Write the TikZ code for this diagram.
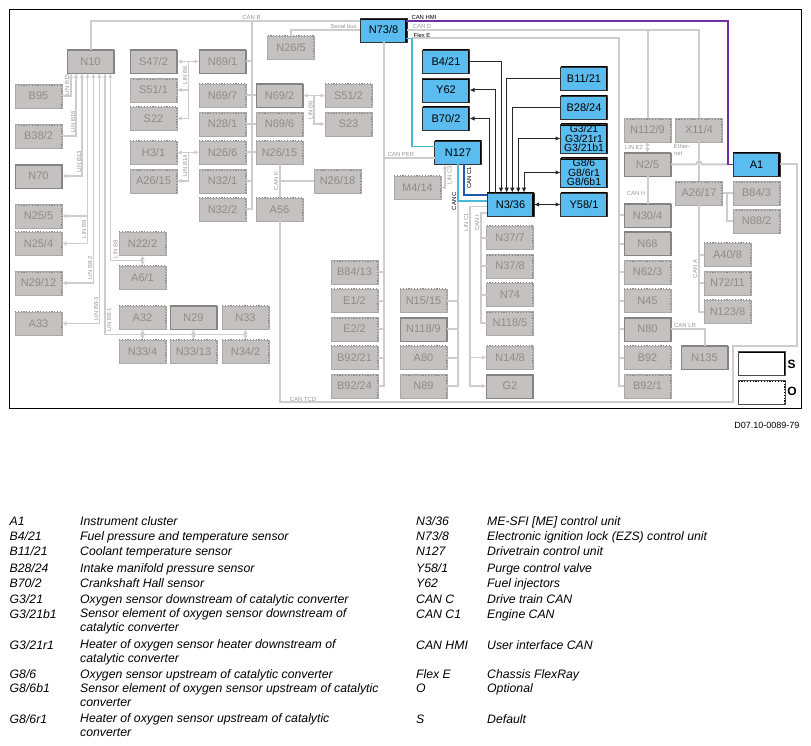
\documentclass[tikz,border=0pt]{standalone}
\usepackage{fontspec}
\setmainfont{Liberation Sans}
\usepackage{xcolor}
\usepackage{tikz}
\usetikzlibrary{positioning,arrows.meta}

\definecolor{boxfill}{RGB}{197,193,193}
\definecolor{boxedge}{RGB}{132,132,132}
\definecolor{boxtext}{RGB}{140,140,140}
\definecolor{busgray}{RGB}{205,205,205}
\definecolor{lblgray}{RGB}{150,150,150}
\definecolor{ecublue}{RGB}{91,188,240}
\definecolor{canclight}{RGB}{75,185,220}
\definecolor{candark}{RGB}{30,90,165}
\definecolor{hmipurple}{RGB}{112,48,160}

\begin{document}
\begin{tikzpicture}[
  x=1pt, y=-1pt,
  box/.style={
    rectangle, draw, outer sep=0pt, inner sep=0pt, align=center,
    minimum width=47pt, minimum height=23.5pt, font=\fontsize{11}{11}\selectfont
  },
  std/.style={box, fill=boxfill, draw=boxedge, text=boxtext,
    path picture={\draw[boxedge, line width=3pt]
      (path picture bounding box.north west) -- (path picture bounding box.north east)
      -- (path picture bounding box.south east);}},
  opt/.style={box, fill=boxfill, draw=boxedge!70, text=boxtext,
    path picture={\draw[boxedge, line width=3pt, dash pattern=on 1.2pt off 1.6pt]
      (path picture bounding box.north west) -- (path picture bounding box.north east)
      -- (path picture bounding box.south east);}},
  ecu/.style={box, fill=ecublue, draw=black!80,
    path picture={\draw[black, line width=3.4pt]
      (path picture bounding box.north west) -- (path picture bounding box.north east)
      -- (path picture bounding box.south east);}},
  multi/.style={minimum height=29pt, font=\fontsize{10.4}{9.7}\selectfont},
  bus/.style={draw=busgray, line width=2pt},
  lin/.style={draw=busgray, line width=1.5pt, >={Latex[length=4.5pt,width=4.5pt]}},
  wire/.style={draw=black!85, line width=1pt, >={Latex[length=5pt,width=4.5pt]}},
  lbl/.style={inner sep=0pt, text=lblgray, font=\fontsize{5.9}{6.5}\selectfont},
  lblk/.style={inner sep=0pt, text=black, font=\fontsize{5.9}{6.5}\selectfont},
  legkey/.style={anchor=west, inner sep=0pt, yshift=-1.8pt,
    execute at begin node=\strut, font=\fontsize{12.25}{14}\selectfont\itshape},
  legtxt/.style={legkey, align=left}
]
\useasboundingbox (0,0) rectangle (811,746);
\draw[black, line width=1pt] (9.5,9.5) rectangle (801,408);

% left column
\node[std] (n10) at (90.5,61.5) {N10};
\node[opt] (b95) at (38.5,96) {B95};
\node[opt] (b38-2) at (38.5,136) {B38/2};
\node[std] (n70) at (38.5,176) {N70};
\node[opt] (n25-5) at (38.5,216) {N25/5};
\node[opt] (n25-4) at (38.5,243.5) {N25/4};
\node[opt] (n29-12) at (38.5,283) {N29/12};
\node[opt] (a33) at (38.5,323.5) {A33};
\node[opt] (n22-2) at (142.5,243.5) {N22/2};
\node[opt, below=10.5pt of n22-2] (a6-1) {A6/1};
\node[opt] (a32) at (142.5,317.5) {A32};
\node[opt, below=10.5pt of a32] (n33-4) {N33/4};
\node[std, right=4pt of a32] (n29) {N29};
\node[opt, right=5pt of n29] (n33) {N33};
\node[opt, right=4pt of n33-4] (n33-13) {N33/13};
\node[opt, right=5pt of n33-13] (n34-2) {N34/2};

% LIN switches and CAN B units
\node[std] (s47-2) at (153.5,61.5) {S47/2};
\node[opt, below=5pt of s47-2] (s51-1) {S51/1};
\node[opt, below=5pt of s51-1] (s22) {S22};
\node[opt, below=10.5pt of s22] (h3-1) {H3/1};
\node[opt, below=5pt of h3-1] (a26-15) {A26/15};
\node[std, right=22pt of s47-2] (n69-1) {N69/1};
\node[opt] (n69-7) at (222.5,95.5) {N69/7};
\node[opt, below=5pt of n69-7] (n28-1) {N28/1};
\node[opt, below=5pt of n28-1] (n26-6) {N26/6};
\node[opt, below=5pt of n26-6] (n32-1) {N32/1};
\node[opt, below=5pt of n32-1] (n32-2) {N32/2};
\node[std, right=10pt of n69-7] (n69-2) {N69/2};
\node[opt, right=10pt of n28-1] (n69-6) {N69/6};
\node[opt, right=10pt of n26-6] (n26-15) {N26/15};
\node[opt, right=10pt of n32-2] (a56) {A56};
\node[opt, right=22pt of n69-2] (s51-2) {S51/2};
\node[opt, right=22pt of n69-6] (s23) {S23};
\node[opt] (n26-18) at (337.5,181) {N26/18};
\node[opt] (n26-5) at (291,47.5) {N26/5};

% middle, CAN PER and CAN C
\node[opt] (m4-14) at (417.5,187.5) {M4/14};
\node[opt] (b84-13) at (354.5,272) {B84/13};
\node[opt, below=5pt of b84-13] (e1-2) {E1/2};
\node[opt, below=5pt of e1-2] (e2-2) {E2/2};
\node[opt, below=5pt of e2-2] (b92-21) {B92/21};
\node[opt, below=5pt of b92-21] (b92-24) {B92/24};
\node[opt, right=22pt of e1-2] (n15-15) {N15/15};
\node[std, below=5pt of n15-15] (n118-9) {N118/9};
\node[opt, below=5pt of n118-9] (a80) {A80};
\node[opt, below=5pt of a80] (n89) {N89};
\node[opt] (n37-7) at (510,237.5) {N37/7};
\node[opt, below=5pt of n37-7] (n37-8) {N37/8};
\node[opt, below=5pt of n37-8] (n74) {N74};
\node[opt, below=5pt of n74] (n118-5) {N118/5};
\node[opt, below=11pt of n118-5] (n14-8) {N14/8};
\node[std, below=5pt of n14-8] (g2) {G2};

% the highlighted units
\node[ecu] (n73-8) at (383.5,30) {N73/8};
\node[ecu] (b4-21) at (446,61.5) {B4/21};
\node[ecu, below=5pt of b4-21] (y62) {Y62};
\node[ecu, below=5pt of y62] (b70-2) {B70/2};
\node[ecu] (n127) at (458,152.5) {N127};
\node[ecu] (n3-36) at (510.5,204.5) {N3/36};
\node[ecu] (b11-21) at (584,78.5) {B11/21};
\node[ecu, below=5.5pt of b11-21] (b28-24) {B28/24};
\node[ecu, multi] (g3) at (584,138.5) {G3/21\\G3/21r1\\G3/21b1};
\node[ecu, multi] (g8) at (584,172.5) {G8/6\\G8/6r1\\G8/6b1};
\node[ecu] (y58-1) at (584,204.5) {Y58/1};
\node[ecu] (a1) at (756.5,164.5) {A1};

% right side
\node[opt] (n112-9) at (647.5,130) {N112/9};
\node[opt, right=4.5pt of n112-9] (x11-4) {X11/4};
\node[std] (n2-5) at (647.5,164.5) {N2/5};
\node[opt] (a26-17) at (699,193) {A26/17};
\node[opt, right=10.5pt of a26-17] (b84-3) {B84/3};
\node[opt, below=4.5pt of b84-3] (n88-2) {N88/2};
\node[std] (n30-4) at (647.5,215.5) {N30/4};
\node[std, below=4.5pt of n30-4] (n68) {N68};
\node[opt, below=5pt of n68] (n62-3) {N62/3};
\node[opt, below=5pt of n62-3] (n45) {N45};
\node[std, below=5pt of n45] (n80) {N80};
\node[opt, below=5pt of n80] (b92) {B92};
\node[opt, below=5pt of b92] (b92-1) {B92/1};
\node[opt] (a40-8) at (727.5,254.5) {A40/8};
\node[opt, below=5pt of a40-8] (n72-11) {N72/11};
\node[opt, below=5pt of n72-11] (n123-8) {N123/8};
\node[std] (n135) at (704.5,357.5) {N135};

% key boxes
\node[box, fill=white, draw=black!70,
  path picture={\draw[black, line width=3.4pt]
    (path picture bounding box.north west) -- (path picture bounding box.north east)
    -- (path picture bounding box.south east);}] (keys) at (762,363) {};
\node[box, fill=white, draw=black!70,
  path picture={\draw[black, line width=3pt, dash pattern=on 1.2pt off 1.6pt]
    (path picture bounding box.north west) -- (path picture bounding box.north east)
    -- (path picture bounding box.south east);}] (keyo) at (762,392) {};
\node[inner sep=0pt, font=\fontsize{12}{12}\selectfont\bfseries] (keyslbl) at (791.5,364) {S};
\node[inner sep=0pt, font=\fontsize{12}{12}\selectfont\bfseries] (keyolbl) at (792,391.7) {O};

% points on the buses
\coordinate (canb) at (251.5,21);
\coordinate (hmi) at (406,21);
\coordinate (hmibend) at (727.7,164.5);
\coordinate (flexe) at (406,38.5);
\coordinate (flexa) at (412,38.5);
\coordinate (flexb) at (412,146.5);
\coordinate (flexc) at (435,146.5);
\coordinate (flexdown) at (618.5,386);
\coordinate (per) at (435,158);
\coordinate (cdark) at (464,164.25);
\coordinate (cdarkend) at (487,195);
\coordinate (clightend) at (487,201);
\coordinate (cgray) at (458,201);
\coordinate (lc3) at (445,164.25);
\coordinate (lc1) at (487,206.7);
\coordinate (lc1b) at (470,386);
\coordinate (cani) at (487,212.7);
\coordinate (canib) at (481,323);
\coordinate (tcda) at (796.7,345.7);
\coordinate (tcdb) at (733.3,402.3);
\coordinate (b84j) at (727.3,193);
\coordinate (p15) at (71,73.25);
\coordinate (p16) at (76,73.25);
\coordinate (p13) at (82,73.25);
\coordinate (p9) at (87.5,73.25);
\coordinate (p82) at (93.3,73.25);
\coordinate (p83) at (99.3,73.25);
\coordinate (p81) at (105,73.25);
\coordinate (p8) at (110.3,73.25);
\coordinate (b81) at (105,334.7);
\coordinate (b8) at (110.3,260.3);
\coordinate (b6) at (188.3,61.5);
\coordinate (b14) at (188.3,152.5);
\coordinate (b6r) at (314,95.5);
\coordinate (t1) at (489.5,192.75);
\coordinate (t2) at (495.3,192.75);
\coordinate (t3) at (501,192.75);
\coordinate (t4) at (506.7,192.75);
\coordinate (t5) at (512.3,192.75);
\coordinate (t6) at (518.3,192.75);
\coordinate (t7) at (524,192.75);

% CAN and other buses
\draw[bus] (n10.north) |- (n73-8.west |- canb);
\draw[bus] (canb) -- (canb |- n32-2) -- (n32-2.east);
\draw[bus] (n69-1.east) -- (canb |- n69-1);
\draw[bus] (n69-7) -- (n69-2);
\draw[bus] (n28-1) -- (n69-6);
\draw[bus] (n26-6) -- (n26-15);
\draw[bus] (n32-1.east) -- (canb |- n32-1);
\draw[bus] (n73-8.west) -| (n26-5.north);
\draw[bus] (n73-8.east) -| (x11-4.north);
\draw[bus] (n112-9.north |- n73-8.east) -- (n112-9.north);
\draw[bus] (flexa) -| (flexdown) -- (b92-1.west);
\draw[bus] (n30-4.west) -- (flexdown |- n30-4);
\draw[bus] (n68.west) -- (flexdown |- n68);
\draw[bus] (n62-3.west) -- (flexdown |- n62-3);
\draw[bus] (n45.west) -- (flexdown |- n45);
\draw[bus] (n80.west) -- (flexdown |- n80);
\draw[bus] (b92.west) -- (flexdown |- b92);
\draw[bus] (n2-5) -- (n30-4);
\draw[bus] (x11-4) -- (a26-17);
\draw[bus] (n2-5.east) -- (696,164.5) arc[start angle=180,end angle=0,radius=3pt] -- (hmibend);
\draw[bus] (a1.east) -| (tcda) -| (tcdb) -| (a56.south);
\draw[bus] (a26-17) -- (b84-3);
\draw[bus] (n88-2.west) -| (b84j);
\draw[bus] (a26-17.south) |- (n123-8.west);
\draw[bus] (a40-8.west) -- (a26-17.south |- a40-8);
\draw[bus] (n72-11.west) -- (a26-17.south |- n72-11);
\draw[bus] (n80.east) -| (n135.north);
\draw[bus] (n73-8.south) |- (b92-24.east);
\draw[bus] (b84-13.east) -- (n73-8.south |- b84-13);
\draw[bus] (e1-2.east) -- (n73-8.south |- e1-2);
\draw[bus] (e2-2.east) -- (n73-8.south |- e2-2);
\draw[bus] (b92-21.east) -- (n73-8.south |- b92-21);
\draw[bus] (per) -- (per -| n73-8);
\draw[bus] (n89.east) -| (cgray);
\draw[bus] (n15-15.east) -- (cgray |- n15-15);
\draw[bus] (n118-9.east) -- (cgray |- n118-9);
\draw[bus] (a80.east) -- (cgray |- a80);
\draw[bus] (n26-15) -- (a56);
\draw[bus] (n26-18.west) -- (a56 |- n26-18);
\draw[bus] (cani) -| (canib) -- (n118-5.west);
\draw[bus] (n37-7.west) -- (canib |- n37-7);
\draw[bus] (n37-8.west) -- (canib |- n37-8);
\draw[bus] (n74.west) -- (canib |- n74);

% coloured buses
\draw[hmipurple, line width=1.8pt] (hmi) -| (hmibend) -- (a1.west);
\draw[canclight, line width=1.8pt] (flexe) -| (flexb) -- (flexc);
\draw[canclight, line width=1.8pt] (n127.south) |- (clightend);
\draw[candark, line width=1.8pt] (cdark) |- (cdarkend);

% LIN lines
\draw[lin, ->] (b95.east) -| (p15);
\draw[lin, ->] (b38-2.east) -| (p16);
\draw[lin, <->] (n70.east) -| (p13);
\draw[lin, <->] (n25-4.east) -| (p9);
\draw[lin, ->] (p9 |- n25-5) -- (n25-5.east);
\draw[lin, <->] (n29-12.east) -| (p82);
\draw[lin, <->] (a33.east) -| (p83);
\draw[lin, <-] (p81) -- (b81) -- (b81 -| n34-2);
\draw[lin, <-] (p8) -- (b8) -- (b8 -| n22-2);
\draw[lin, <->] (n22-2) -- (a6-1);
\draw[lin, <->] (a32) -- (n33-4);
\draw[lin, <->] (n29) -- (n33-13);
\draw[lin, <->] (n33) -- (n34-2);
\draw[lin, <->] (s47-2) -- (n69-1);
\draw[lin, ->] (b6) |- (s22.east);
\draw[lin, ->] (b6 |- s51-1) -- (s51-1.east);
\draw[lin, <->] (h3-1) -- (n26-6);
\draw[lin, ->] (b14) |- (a26-15.east);
\draw[lin, <->] (n69-2) -- (s51-2);
\draw[lin, ->] (b6r) |- (s23.west);
\draw[lin, <->] (lc3) |- (m4-14.east);
\draw[lin, ->] (lc1) -| (lc1b) -- (g2.west);
\draw[lin, ->] (lc1b |- n14-8) -- (n14-8.west);
\draw[lin, <->] (n112-9) -- (n2-5);

% signal wires
\draw[wire, ->] (b4-21.east) -| (t3);
\draw[wire, ->] (b11-21.west) -| (t4);
\draw[wire, ->] (b28-24.west) -| (t5);
\draw[wire, <->] (t6) |- (g3.west);
\draw[wire, <->] (t7) |- (g8.west);
\draw[wire, ->] (t2) |- (y62.east);
\draw[wire, ->] (t1) |- (b70-2.east);
\draw[wire, <->] (n3-36) -- (y58-1);

% bus labels
\node[lbl] (lcanb) at (251.5,17) {CAN B};
\node[lbl] (lserial) at (343.5,26) {Serial bus};
\node[lblk] (lhmi) at (424,17.5) {CAN HMI};
\node[lbl] (lcand) at (422,26) {CAN D};
\node[lblk] (lflex) at (422,35) {Flex E};
\node[lbl] (lper) at (401,154) {CAN PER};
\node[lbl, rotate=90] (l15) at (67,85) {LIN B15};
\node[lbl, rotate=90] (l16) at (73,122) {LIN B16};
\node[lbl, rotate=90] (l13) at (79,162) {LIN B13};
\node[lbl, rotate=90] (l9) at (84,229) {LIN B9};
\node[lbl, rotate=90] (l82) at (90,268) {LIN B8-2};
\node[lbl, rotate=90] (l83) at (96,309) {LIN B8-3};
\node[lbl, rotate=90] (l81) at (109,320) {LIN B8-1};
\node[lbl, rotate=90] (l8) at (115.7,249) {LIN B8};
\node[lbl, rotate=90] (l6) at (185,75) {LIN B6};
\node[lbl, rotate=90] (l14) at (185,166) {LIN B14};
\node[lbl, rotate=90] (l6r) at (310.7,110) {LIN B6};
\node[lbl, rotate=90] (lcank) at (276,181) {CAN K};
\node[lbl, rotate=90] (lc3lbl) at (449.5,175) {LIN C3};
\node[lblk, rotate=90] (lc1k) at (469,178) {CAN C1};
\node[lblk, rotate=90] (lck) at (454,201) {CAN C};
\node[lbl, rotate=90] (lc1lbl) at (466,222) {LIN C1};
\node[lbl, rotate=90] (lcani) at (477,223) {CAN I};
\node[lbl] (ltcd) at (303,399) {CAN TCD};
\node[lbl] (le2) at (634,147) {LIN E2};
\node[lbl, align=left] (lether) at (682,150) {Ether-\\[1.2pt]net};
\node[lbl] (lcanh) at (636,193) {CAN H};
\node[lbl, rotate=90] (lcana) at (695,269) {CAN A};
\node[lbl] (lcanlr) at (685,325) {CAN LR};
\node[inner sep=0pt, anchor=east, font=\fontsize{9}{9}\selectfont] (docid) at (799.5,425) {D07.10-0089-79};

% key, left part
\node[legkey] (k-a1) at (9.5,520.7) {A1};
\node[legtxt] (t-a1) at (80,520.7) {Instrument cluster};
\node[legkey] (k-b4) at (9.5,535.7) {B4/21};
\node[legtxt] (t-b4) at (80,535.7) {Fuel pressure and temperature sensor};
\node[legkey] (k-b11) at (9.5,550.7) {B11/21};
\node[legtxt] (t-b11) at (80,550.7) {Coolant temperature sensor};
\node[legkey] (k-b28) at (9.5,567.5) {B28/24};
\node[legtxt] (t-b28) at (80,567.5) {Intake manifold pressure sensor};
\node[legkey] (k-b70) at (9.5,582.7) {B70/2};
\node[legtxt] (t-b70) at (80,582.7) {Crankshaft Hall sensor};
\node[legkey] (k-g3) at (9.5,598.7) {G3/21};
\node[legtxt] (t-g3) at (80,598.7) {Oxygen sensor downstream of catalytic converter};
\node[legkey] (k-g3b) at (9.5,613.7) {G3/21b1};
\node[legtxt] (t-g3b) at (80,620.7) {Sensor element of oxygen sensor downstream of\\catalytic converter\strut};
\node[legkey] (k-g3r) at (9.5,644.7) {G3/21r1};
\node[legtxt] (t-g3r) at (80,651.7) {Heater of oxygen sensor heater downstream of\\catalytic converter\strut};
\node[legkey] (k-g8) at (9.5,673.7) {G8/6};
\node[legtxt] (t-g8) at (80,673.7) {Oxygen sensor upstream of catalytic converter};
\node[legkey] (k-g8b) at (9.5,688) {G8/6b1};
\node[legtxt] (t-g8b) at (80,695) {Sensor element of oxygen sensor upstream of catalytic\\converter\strut};
\node[legkey] (k-g8r) at (9.5,718.7) {G8/6r1};
\node[legtxt] (t-g8r) at (80,725.7) {Heater of oxygen sensor upstream of catalytic\\converter\strut};

% key, right part
\node[legkey] (k-n3) at (416,520.7) {N3/36};
\node[legtxt] (t-n3) at (487,520.7) {ME-SFI [ME] control unit};
\node[legkey] (k-n73) at (416,535.7) {N73/8};
\node[legtxt] (t-n73) at (487,535.7) {Electronic ignition lock (EZS) control unit};
\node[legkey] (k-n127) at (416,550.7) {N127};
\node[legtxt] (t-n127) at (487,550.7) {Drivetrain control unit};
\node[legkey] (k-y58) at (416,567.5) {Y58/1};
\node[legtxt] (t-y58) at (487,567.5) {Purge control valve};
\node[legkey] (k-y62) at (416,582.7) {Y62};
\node[legtxt] (t-y62) at (487,582.7) {Fuel injectors};
\node[legkey] (k-canc) at (416,598.7) {CAN C};
\node[legtxt] (t-canc) at (487,598.7) {Drive train CAN};
\node[legkey] (k-canc1) at (416,613.7) {CAN C1};
\node[legtxt] (t-canc1) at (487,613.7) {Engine CAN};
\node[legkey] (k-hmi) at (416,644.7) {CAN HMI};
\node[legtxt] (t-hmi) at (487,644.7) {User interface CAN};
\node[legkey] (k-flex) at (416,673.7) {Flex E};
\node[legtxt] (t-flex) at (487,673.7) {Chassis FlexRay};
\node[legkey] (k-o) at (416,688) {O};
\node[legtxt] (t-o) at (487,688) {Optional};
\node[legkey] (k-s) at (416,718.7) {S};
\node[legtxt] (t-s) at (487,718.7) {Default};
\end{tikzpicture}
\end{document}
